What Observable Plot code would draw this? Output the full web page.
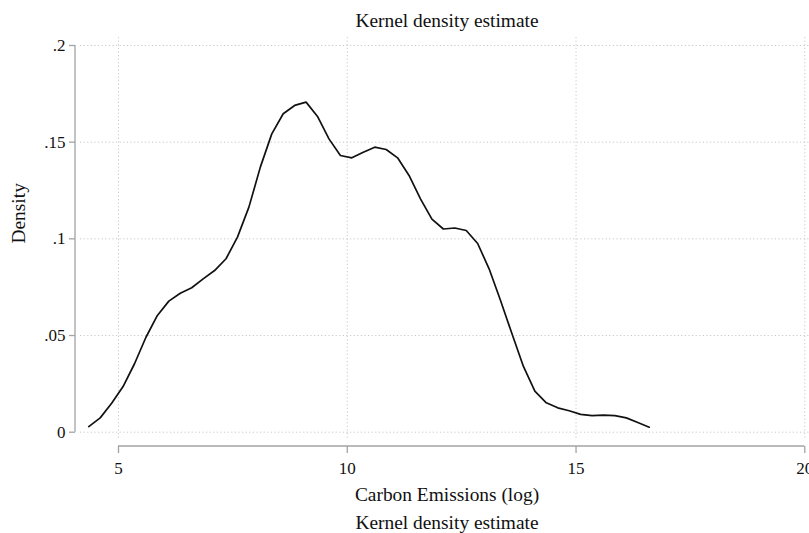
<!DOCTYPE html>
<html>
<head>
<meta charset="utf-8">
<script src="https://cdn.jsdelivr.net/npm/d3@7"></script>
<script src="https://cdn.jsdelivr.net/npm/@observablehq/plot@0.6"></script>
<style>
  html, body { margin: 0; padding: 0; background: #fff; }
</style>
</head>
<body>
<div id="chart"></div>
<script>
// Kernel density estimate of log carbon emissions (50 evaluation points)
const emissionsLog = [
  4.35, 4.60, 4.85, 5.10, 5.35, 5.60, 5.85, 6.10, 6.35, 6.60,
  6.85, 7.10, 7.35, 7.60, 7.85, 8.10, 8.35, 8.60, 8.85, 9.10,
  9.35, 9.60, 9.85, 10.10, 10.35, 10.60, 10.85, 11.10, 11.35, 11.60,
  11.85, 12.10, 12.35, 12.60, 12.85, 13.10, 13.35, 13.60, 13.85, 14.10,
  14.35, 14.60, 14.85, 15.10, 15.35, 15.60, 15.85, 16.10, 16.35, 16.60
];
const density = [
  0.0029, 0.0074, 0.0150, 0.0236, 0.0354, 0.0491, 0.0604, 0.0678, 0.0719, 0.0747,
  0.0793, 0.0836, 0.0897, 0.1009, 0.1164, 0.1371, 0.1543, 0.1647, 0.1690, 0.1707,
  0.1633, 0.1517, 0.1431, 0.1419, 0.1448, 0.1474, 0.1462, 0.1419, 0.1328, 0.1207,
  0.1102, 0.1051, 0.1056, 0.1043, 0.0976, 0.0845, 0.0681, 0.0509, 0.0340, 0.0212,
  0.0152, 0.0126, 0.0111, 0.0092, 0.0086, 0.0088, 0.0086, 0.0074, 0.0050, 0.0026
];

const xTicks = [5, 10, 15, 20];
const xTickLabels = ["5", "10", "15", "20"];
const yTicks = [0, 0.05, 0.1, 0.15, 0.2];
const yTickLabels = ["0", ".05", ".1", ".15", ".2"];

const subtitleText = "Kernel density estimate";
const xAxisTitle = "Carbon Emissions (log)";
const yAxisTitle = "Density";
const noteText = "Kernel density estimate";

const rows = emissionsLog.map((x, i) => ({x, d: density[i]}));
const xLabelOf = new Map(xTicks.map((t, i) => [t, xTickLabels[i]]));
const yLabelOf = new Map(yTicks.map((t, i) => [t, yTickLabels[i]]));

const serif = "'Liberation Serif', 'Times New Roman', Times, serif";
const axisColor = "#a3a3a3";
const gridColor = "#c9c9c9";
const inkColor = "#111111";

// Axis lines: the y axis runs over the tick range at the left margin,
// the x axis sits a little below the plot region, from first to last tick.
function axisLines(index, scales, values, dims) {
  const {x, y} = scales;
  const g = d3.create("svg:g")
    .attr("fill", "none")
    .attr("stroke", axisColor)
    .attr("stroke-width", 1.3);
  g.append("path")
    .attr("d", `M${dims.marginLeft},${y(yTicks[0])}V${y(yTicks[yTicks.length - 1])}`);
  const xAxisY = dims.height - dims.marginBottom + 6;
  g.append("path")
    .attr("d", `M${x(xTicks[0])},${xAxisY}H${x(xTicks[xTicks.length - 1])}`);
  return g.node();
}

const chart = Plot.plot({
  width: 809,
  height: 533,
  marginLeft: 75,
  marginRight: 0,
  marginTop: 37,
  marginBottom: 93,
  style: {fontFamily: serif, fontSize: "17px", background: "#fff", color: inkColor},
  x: {domain: [5, 20], range: [118, 804.3]},
  y: {domain: [0, 0.2], range: [431.7, 45]},
  marks: [
    Plot.gridY(yTicks, {stroke: gridColor, strokeOpacity: 1, strokeWidth: 1, strokeDasharray: "1.2,2.4", insetLeft: 5}),
    Plot.gridX(xTicks, {stroke: gridColor, strokeOpacity: 1, strokeWidth: 1, strokeDasharray: "1.2,2.4"}),
    axisLines,
    Plot.axisY(yTicks, {
      anchor: "left", tickSize: 6, tickPadding: 4,
      tickFormat: (d) => yLabelOf.get(d),
      stroke: axisColor, strokeWidth: 1.3, fill: inkColor, fontSize: 17, label: null
    }),
    Plot.axisX(xTicks, {
      anchor: "bottom", tickSize: 7, tickPadding: 8, dy: 6,
      tickFormat: (d) => xLabelOf.get(d),
      stroke: axisColor, strokeWidth: 1.3, fill: inkColor, fontSize: 17, label: null
    }),
    Plot.lineY(rows, {x: "x", y: "d", stroke: inkColor, strokeWidth: 1.7, curve: "linear"}),
    Plot.text([subtitleText], {frameAnchor: "top", lineAnchor: "middle", dx: 4.5, dy: -17, fontSize: 19.4, fill: inkColor}),
    Plot.text([xAxisTitle], {frameAnchor: "bottom", lineAnchor: "middle", dx: 4.5, dy: 54, fontSize: 19.4, fill: inkColor}),
    Plot.text([noteText], {frameAnchor: "bottom", lineAnchor: "middle", dx: 4.5, dy: 82, fontSize: 19.4, fill: inkColor}),
    Plot.text([yAxisTitle], {frameAnchor: "left", lineAnchor: "middle", rotate: -90, dx: -57, dy: 4.5, fontSize: 19.4, fill: inkColor})
  ]
});

document.getElementById("chart").appendChild(chart);
</script>
</body>
</html>
